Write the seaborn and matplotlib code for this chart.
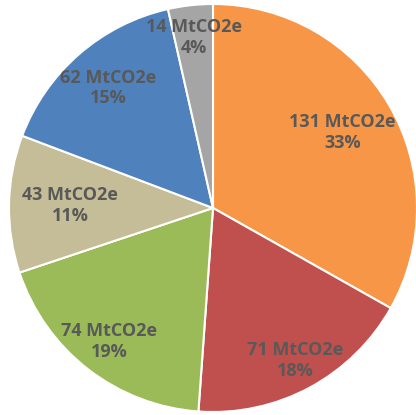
import matplotlib
matplotlib.use("Agg")
import matplotlib.pyplot as plt
import seaborn as sns
import numpy as np

# Emissions by sector (MtCO2e), clockwise from 12 o'clock
values = [131, 71, 74, 43, 62, 14]
pct_labels = ["33%", "18%", "19%", "11%", "15%", "4%"]
colors = ["#F79646", "#C0504D", "#9BBB59", "#C4BD97", "#4F81BD", "#A5A5A5"]

# label distance from centre (fraction of radius), per slice
label_r = [0.735, 0.85, 0.83, 0.70, 0.78, 0.84]

sns.set_theme(style="white")
plt.rcParams["font.family"] = ["Open Sans", "DejaVu Sans"]

fig = plt.figure(figsize=(4.16, 4.15), dpi=100)
# pie centre at (213, 208) px, radius 204 px
ax = fig.add_axes([(213 - 204) / 416, (415 - 208 - 204) / 415, 408 / 416, 408 / 415])

wedges, _ = ax.pie(
    values,
    colors=sns.color_palette(colors),
    startangle=90,
    counterclock=False,
    radius=1,
    wedgeprops=dict(edgecolor="white", linewidth=1.5),
)

for w, v, p, r in zip(wedges, values, pct_labels, label_r):
    mid = np.deg2rad((w.theta1 + w.theta2) / 2)
    ax.text(r * np.cos(mid), r * np.sin(mid), f"{v} MtCO2e\n{p}",
            ha="center", va="center", fontsize=13, fontweight="bold",
            color="#595959", linespacing=1.2)

ax.set_xlim(-1, 1)
ax.set_ylim(-1, 1)
ax.set_aspect("equal")
ax.axis("off")

fig.savefig("out.png", dpi=100)
